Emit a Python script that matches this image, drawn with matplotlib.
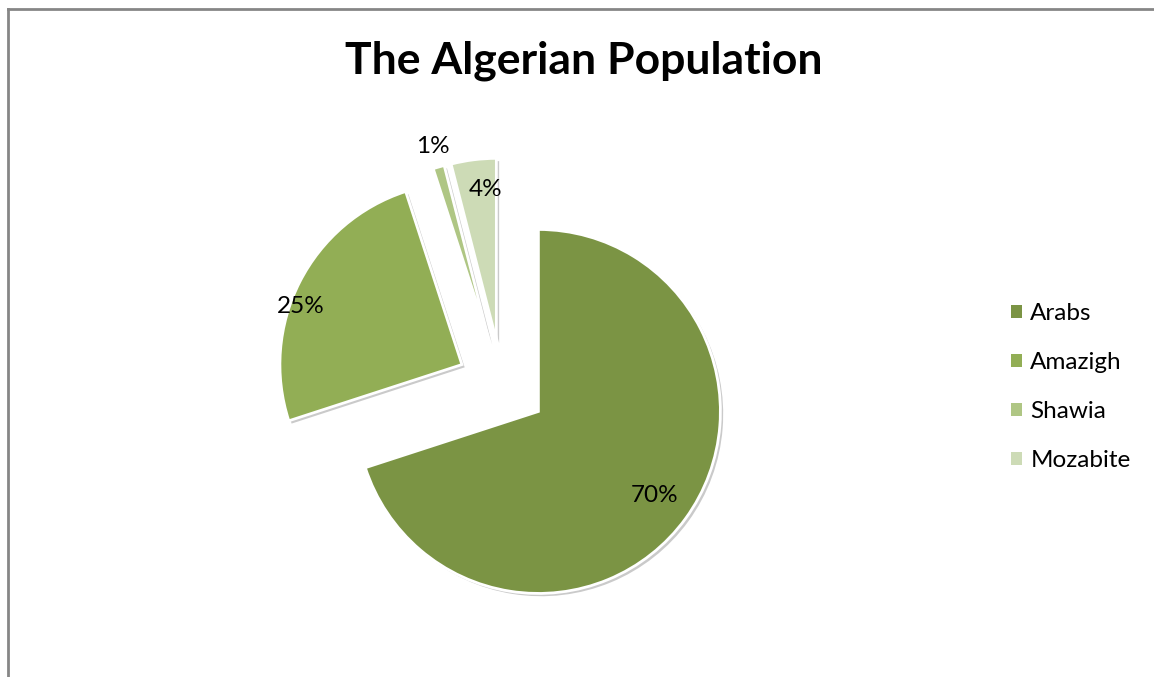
import math
import matplotlib
matplotlib.use('Agg')
import matplotlib.pyplot as plt
import matplotlib.patches as mpatches
from matplotlib.lines import Line2D

plt.rcParams['font.family'] = ['Lato', 'DejaVu Sans']

# data
groups = ['Arabs', 'Amazigh', 'Shawia', 'Mozabite']
shares = [70, 25, 1, 4]
colors = ['#7B9444', '#92AE55', '#AFC684', '#CDDBB6']
label_dist = [0.79, 0.94, 1.12, 0.83]
label_turn = [0, 7, 0, -3]   # small angular nudges (deg) like Excel's best fit

W, H = 1154, 677
fig = plt.figure(figsize=(W / 100, H / 100), dpi=100)
ax = fig.add_axes([0, 0, 1, 1])

R = 182
center = (502, H - 385)
explode = [45] * len(shares)

wedges, _ = ax.pie(shares, colors=colors, startangle=90, counterclock=False,
                   radius=R, center=center, explode=explode,
                   wedgeprops=dict(edgecolor='white', linewidth=2))

# soft grey shadow behind each slice
for w in wedges:
    sh = mpatches.Shadow(w, 2, -2)
    sh.set_facecolor('#bdbdbd')
    sh.set_edgecolor('none')
    sh.set_alpha(0.8)
    sh.set_zorder(w.get_zorder() - 0.5)
    ax.add_patch(sh)

# percentage labels
for w, s, d, t in zip(wedges, shares, label_dist, label_turn):
    mid = math.radians((w.theta1 + w.theta2) / 2 + t)
    cx, cy = w.center
    ax.text(cx + d * R * math.cos(mid), cy + d * R * math.sin(mid), f'{s}%',
            ha='center', va='center', fontsize=17.5, color='black')

ax.set_xlim(0, W)
ax.set_ylim(0, H)
ax.set_aspect('equal')
ax.axis('off')

fig.text(584 / W, 1 - 61 / H, 'The Algerian Population', ha='center', va='center',
         fontsize=32, fontweight='bold')

handles = [mpatches.Patch(facecolor=c, edgecolor='none') for c in colors]
fig.legend(handles, groups, loc='center left', bbox_to_anchor=(989 / W, 1 - 387 / H),
           frameon=False, fontsize=17.5, handlelength=0.45, handleheight=0.45,
           handletextpad=0.35, labelspacing=1.15)

# chart-area border (left and top)
fig.add_artist(Line2D([8 / W, 8 / W], [0, 1 - 9 / H], color='#868686', lw=2))
fig.add_artist(Line2D([8 / W, 1], [1 - 9 / H, 1 - 9 / H], color='#868686', lw=2))

fig.savefig('out.png', dpi=100)
